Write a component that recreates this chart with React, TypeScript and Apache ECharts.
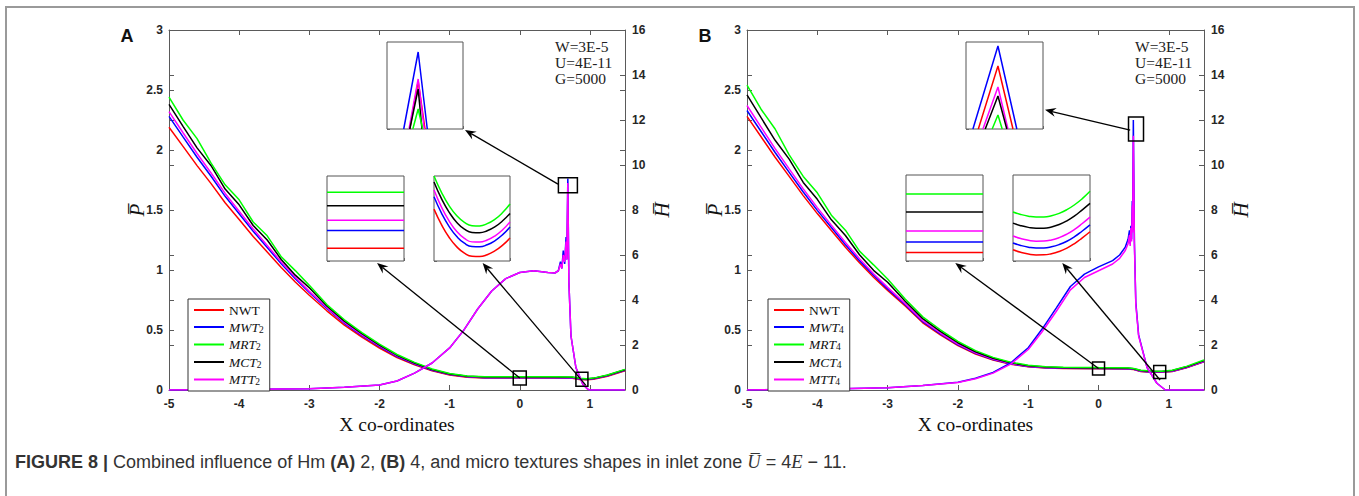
import React, { useEffect, useRef } from "react";
import * as echarts from "echarts";

// ---------- colours / names ----------
const COLORS: Record<string, string> = {
  NWT: "#ff0000",
  MWT: "#0000ff",
  MRT: "#00ff00",
  MCT: "#000000",
  MTT: "#ff00ff",
};
const CASES = ["NWT", "MWT", "MTT", "MCT", "MRT"]; // drawing order

// ---------- axes ----------
const X_MIN = -5;
const X_MAX = 1.5;
const X_INTERVAL = 1;
const P_MIN = 0;
const P_MAX = 3;
const P_INTERVAL = 0.5;
const H_MIN = 0;
const H_MAX = 16;
const H_INTERVAL = 2;
const X_NAME = "X co-ordinates";
const P_NAME = "P\u0305";
const H_NAME = "H\u0305";

// ---------- panel A (Hm = 2): pressure P ----------
const P_X_A = [-5, -4.8, -4.6, -4.4, -4.2, -4, -3.8, -3.6, -3.4, -3.2, -3, -2.75, -2.5, -2.25, -2, -1.75, -1.5, -1.25, -1, -0.75, -0.5, 0, 0.5, 0.75, 0.85, 0.95, 1.05, 1.25, 1.5];
const P_A_NWT = [2.19, 2.03, 1.87, 1.72, 1.56, 1.42, 1.28, 1.15, 1.02, 0.9, 0.79, 0.66, 0.54, 0.44, 0.35, 0.27, 0.21, 0.16, 0.125, 0.107, 0.1, 0.1, 0.1, 0.098, 0.088, 0.085, 0.09, 0.115, 0.16];
const P_A_MWT = [2.28, 2.109, 1.94, 1.781, 1.614, 1.469, 1.323, 1.188, 1.052, 0.927, 0.812, 0.679, 0.556, 0.454, 0.362, 0.279, 0.217, 0.165, 0.129, 0.111, 0.103, 0.103, 0.103, 0.101, 0.091, 0.088, 0.093, 0.119, 0.164];
const P_A_MRT = [2.44, 2.25, 2.095, 1.89, 1.71, 1.585, 1.4, 1.285, 1.11, 0.995, 0.872, 0.712, 0.585, 0.478, 0.382, 0.296, 0.23, 0.175, 0.137, 0.117, 0.11, 0.11, 0.11, 0.108, 0.097, 0.094, 0.099, 0.125, 0.172];
const P_A_MCT = [2.38, 2.197, 2.018, 1.869, 1.674, 1.543, 1.371, 1.25, 1.088, 0.957, 0.852, 0.7, 0.574, 0.469, 0.374, 0.29, 0.225, 0.171, 0.134, 0.115, 0.108, 0.108, 0.108, 0.106, 0.095, 0.092, 0.097, 0.123, 0.169];
const P_A_MTT = [2.32, 2.144, 1.971, 1.808, 1.638, 1.49, 1.342, 1.205, 1.067, 0.939, 0.822, 0.687, 0.563, 0.46, 0.367, 0.284, 0.22, 0.168, 0.131, 0.112, 0.105, 0.105, 0.105, 0.103, 0.093, 0.09, 0.095, 0.12, 0.166];

// ---------- panel A: film thickness H ----------
const H_X_A = [-5, -4, -3, -2.5, -2, -1.75, -1.5, -1.25, -1, -0.8, -0.6, -0.4, -0.2, 0, 0.2, 0.4, 0.5, 0.55, 0.58, 0.6, 0.62, 0.64, 0.66, 0.67, 0.685, 0.7, 0.73, 0.8, 0.9, 0.97, 1.0, 1.5];
const H_A_MWT = [0, 0.02, 0.06, 0.12, 0.22, 0.4, 0.75, 1.2, 1.87, 2.65, 3.6, 4.4, 4.95, 5.22, 5.3, 5.22, 5.2, 5.3, 5.7, 5.4, 6.2, 5.6, 6.8, 5.8, 9.4, 4.8, 2.4, 1.0, 0.25, 0.03, 0, 0];
const H_A_MTT = [0, 0.02, 0.06, 0.12, 0.22, 0.4, 0.75, 1.2, 1.87, 2.65, 3.6, 4.4, 4.95, 5.22, 5.3, 5.22, 5.2, 5.3, 5.6, 5.4, 6.0, 5.7, 6.6, 5.8, 9.2, 4.8, 2.4, 1.0, 0.25, 0.03, 0, 0];

// ---------- panel B (Hm = 4): pressure P ----------
const P_X_B = [-5, -4.8, -4.6, -4.4, -4.2, -4, -3.8, -3.6, -3.4, -3.2, -3, -2.75, -2.5, -2.25, -2, -1.75, -1.5, -1.25, -1, -0.75, -0.5, 0, 0.4, 0.5, 0.6, 0.75, 0.9, 1.05, 1.25, 1.5];
const P_B_NWT = [2.28, 2.11, 1.94, 1.78, 1.62, 1.47, 1.33, 1.19, 1.06, 0.94, 0.83, 0.7, 0.56, 0.46, 0.37, 0.3, 0.25, 0.215, 0.193, 0.183, 0.179, 0.177, 0.176, 0.17, 0.155, 0.148, 0.147, 0.155, 0.185, 0.235];
const P_B_MWT = [2.329, 2.154, 1.979, 1.814, 1.65, 1.497, 1.354, 1.211, 1.078, 0.956, 0.843, 0.711, 0.57, 0.468, 0.377, 0.305, 0.254, 0.218, 0.195, 0.185, 0.181, 0.179, 0.178, 0.172, 0.157, 0.15, 0.149, 0.157, 0.187, 0.237];
const P_B_MRT = [2.54, 2.34, 2.175, 1.96, 1.78, 1.643, 1.457, 1.332, 1.157, 1.043, 0.925, 0.758, 0.61, 0.502, 0.405, 0.328, 0.272, 0.232, 0.206, 0.194, 0.189, 0.187, 0.186, 0.18, 0.165, 0.158, 0.157, 0.165, 0.197, 0.25];
const P_B_MCT = [2.459, 2.269, 2.081, 1.924, 1.73, 1.589, 1.418, 1.287, 1.127, 0.997, 0.898, 0.74, 0.595, 0.489, 0.394, 0.319, 0.265, 0.227, 0.202, 0.191, 0.186, 0.184, 0.183, 0.177, 0.162, 0.155, 0.154, 0.162, 0.193, 0.245];
const P_B_MTT = [2.371, 2.191, 2.012, 1.843, 1.676, 1.52, 1.374, 1.229, 1.094, 0.969, 0.855, 0.72, 0.578, 0.475, 0.382, 0.31, 0.258, 0.221, 0.198, 0.187, 0.183, 0.181, 0.18, 0.174, 0.159, 0.152, 0.151, 0.159, 0.189, 0.24];

// ---------- panel B: film thickness H ----------
const H_X_B = [-5, -4, -3, -2.5, -2, -1.75, -1.5, -1.25, -1, -0.8, -0.6, -0.4, -0.2, 0, 0.2, 0.3, 0.38, 0.42, 0.44, 0.45, 0.46, 0.47, 0.48, 0.485, 0.495, 0.51, 0.53, 0.57, 0.69, 0.83, 0.95, 1.5];
const H_B_MWT = [0, 0.03, 0.1, 0.2, 0.34, 0.52, 0.78, 1.2, 1.88, 2.72, 3.65, 4.6, 5.15, 5.47, 5.75, 6.0, 6.35, 6.7, 7.1, 6.5, 7.3, 6.7, 8.4, 7.1, 12.0, 6.6, 3.9, 2.45, 1.0, 0.3, 0, 0];
const H_B_MTT = [0, 0.03, 0.1, 0.2, 0.33, 0.5, 0.75, 1.15, 1.8, 2.6, 3.5, 4.45, 5.0, 5.3, 5.6, 5.85, 6.2, 6.5, 6.9, 6.4, 7.2, 6.6, 8.2, 7.0, 11.3, 6.5, 3.8, 2.4, 1.0, 0.3, 0, 0];

// ---------- insets (zoomed views, normalised units) ----------
const INSET_X = [0, 0.1, 0.2, 0.3, 0.4, 0.5, 0.6, 0.7, 0.8, 0.9, 1];
// inset 1: flat levels near X = 0
const IN1_A: Record<string, number> = { NWT: 0.15, MWT: 0.36, MRT: 0.81, MCT: 0.65, MTT: 0.48 };
const IN1_B: Record<string, number> = { NWT: 0.1, MWT: 0.22, MRT: 0.78, MCT: 0.57, MTT: 0.35 };
// inset 2: pressure dip near X = 0.9
const IN2_A: Record<string, number[]> = {
  NWT: [0.61, 0.425, 0.277, 0.166, 0.092, 0.055, 0.053, 0.074, 0.118, 0.183, 0.27],
  MWT: [0.755, 0.56, 0.404, 0.287, 0.209, 0.17, 0.168, 0.191, 0.238, 0.307, 0.4],
  MRT: [1.0, 0.805, 0.649, 0.532, 0.454, 0.415, 0.413, 0.439, 0.49, 0.567, 0.67],
  MCT: [0.93, 0.731, 0.573, 0.454, 0.375, 0.335, 0.333, 0.356, 0.401, 0.47, 0.56],
  MTT: [0.835, 0.631, 0.469, 0.347, 0.266, 0.225, 0.223, 0.247, 0.294, 0.365, 0.46],
};
const IN2_B: Record<string, number[]> = {
  NWT: [0.13, 0.101, 0.081, 0.071, 0.072, 0.085, 0.111, 0.15, 0.203, 0.269, 0.34],
  MWT: [0.21, 0.181, 0.161, 0.151, 0.152, 0.165, 0.191, 0.23, 0.283, 0.349, 0.42],
  MRT: [0.57, 0.541, 0.521, 0.511, 0.512, 0.526, 0.554, 0.597, 0.654, 0.725, 0.81],
  MCT: [0.44, 0.411, 0.391, 0.381, 0.382, 0.396, 0.424, 0.467, 0.524, 0.595, 0.67],
  MTT: [0.29, 0.261, 0.241, 0.231, 0.232, 0.245, 0.272, 0.313, 0.368, 0.436, 0.51],
};
// inset 3: thickness spike  [left foot, apex x, right foot, apex height]
const IN3_A: Record<string, number[]> = {
  NWT: [0.3, 0.41, 0.5, 0.55],
  MWT: [0.22, 0.41, 0.53, 0.885],
  MRT: [0.34, 0.41, 0.47, 0.23],
  MCT: [0.3, 0.41, 0.46, 0.46],
  MTT: [0.29, 0.41, 0.49, 0.575],
};
const IN3_B: Record<string, number[]> = {
  NWT: [0.16, 0.415, 0.61, 0.724],
  MWT: [0.09, 0.415, 0.66, 0.954],
  MRT: [0.34, 0.415, 0.47, 0.16],
  MCT: [0.25, 0.415, 0.53, 0.38],
  MTT: [0.22, 0.415, 0.545, 0.483],
};

// ---------- zoom annotations (data coordinates) ----------
const ZOOM_A = [
  { sq: [0, 0.1], axis: "P", size: [13, 14], from: [0, 0.1], inset: 0, tip: [0.65, 1, 0, 2] },
  { sq: [0.886, 0.09], axis: "P", size: [12, 14], from: [0.94, 0.04], inset: 1, tip: [0.64, 1, 0, 2] },
  { sq: [0.686, 9.1], axis: "H", size: [19, 15], from: [0.545, 9.15], inset: 2, tip: [1, 1, 2, 1] },
];
const ZOOM_B = [
  { sq: [0, 0.18], axis: "P", size: [12, 13], from: [0, 0.18], inset: 0, tip: [0.64, 1, 0, 2] },
  { sq: [0.87, 0.15], axis: "P", size: [12, 13], from: [0.875, 0.083], inset: 1, tip: [0.64, 1, 0, 2] },
  { sq: [0.533, 11.6], axis: "H", size: [15, 24], from: [0.45, 11.55], inset: 2, tip: [1, 0.78, 2, 0] },
];

// ---------- layout ----------
const MAIN_GRIDS = [
  { left: 169, top: 30, width: 456, height: 360 },
  { left: 747, top: 30, width: 457, height: 360 },
];
const INSET_GRIDS = [
  { left: 327, top: 176, width: 77, height: 85 },
  { left: 434, top: 176, width: 76, height: 85 },
  { left: 387, top: 42, width: 76, height: 87 },
  { left: 906, top: 175, width: 77, height: 86 },
  { left: 1013, top: 175, width: 77, height: 86 },
  { left: 966, top: 42, width: 77, height: 87 },
];

const AXIS_COLOR = "#5a5a5a";
const LABEL_STYLE = { fontFamily: "Liberation Sans", fontWeight: "bold", fontSize: 12, color: "#262626" };

function lineSeries(name: string, color: string, xs: number[], ys: number[], xi: number, yi: number, z = 2, width = 1.5) {
  return {
    type: "line",
    name,
    xAxisIndex: xi,
    yAxisIndex: yi,
    data: xs.map((x, i) => [x, ys[i]]),
    symbol: "none",
    showSymbol: false,
    smooth: false,
    lineStyle: { color, width },
    itemStyle: { color },
    z,
    silent: true,
    clip: true,
  };
}

function buildOption() {
  const grids: any[] = [];
  const xAxes: any[] = [];
  const yAxes: any[] = [];
  const series: any[] = [];

  MAIN_GRIDS.forEach((g) => grids.push({ ...g, show: false }));
  INSET_GRIDS.forEach((g) =>
    grids.push({ ...g, show: true, backgroundColor: "#fff", borderColor: "#555", borderWidth: 1, z: 5 })
  );

  const tick = { show: true, inside: true, length: 5, lineStyle: { color: AXIS_COLOR, width: 1 } };
  const line = { show: true, onZero: false, lineStyle: { color: AXIS_COLOR, width: 1 } };
  const noLine = { show: false, onZero: false };

  // main axes
  [0, 1].forEach((g) => {
    xAxes.push({
      type: "value", gridIndex: g, position: "bottom", min: X_MIN, max: X_MAX, interval: X_INTERVAL,
      axisLine: line, axisTick: tick, splitLine: { show: false },
      axisLabel: { ...LABEL_STYLE, margin: 8, showMaxLabel: false },
      name: X_NAME, nameLocation: "middle", nameGap: 24,
      nameTextStyle: { fontFamily: "Liberation Serif", fontSize: 19.5, color: "#111" },
    });
    xAxes.push({
      type: "value", gridIndex: g, position: "top", min: X_MIN, max: X_MAX, interval: X_INTERVAL,
      axisLine: line, axisTick: tick, splitLine: { show: false }, axisLabel: { show: false },
    });
    yAxes.push({
      type: "value", gridIndex: g, position: "left", min: P_MIN, max: P_MAX, interval: P_INTERVAL,
      axisLine: line, axisTick: tick, splitLine: { show: false },
      axisLabel: { ...LABEL_STYLE, margin: 6 },
    });
    yAxes.push({
      type: "value", gridIndex: g, position: "right", min: H_MIN, max: H_MAX, interval: H_INTERVAL,
      axisLine: line, axisTick: tick, splitLine: { show: false },
      axisLabel: { ...LABEL_STYLE, margin: 7 },
    });
    // mirrored tick marks
    yAxes.push({
      type: "value", gridIndex: g, position: "right", min: P_MIN, max: P_MAX, interval: P_INTERVAL,
      axisLine: noLine, axisTick: tick, splitLine: { show: false }, axisLabel: { show: false },
    });
    yAxes.push({
      type: "value", gridIndex: g, position: "left", min: H_MIN, max: H_MAX, interval: H_INTERVAL,
      axisLine: noLine, axisTick: tick, splitLine: { show: false }, axisLabel: { show: false },
    });
  });

  // inset axes
  const smallTick = { show: true, inside: true, length: 3, lineStyle: { color: "#777", width: 1 } };
  INSET_GRIDS.forEach((_, k) => {
    xAxes.push({
      type: "value", gridIndex: 2 + k, min: 0, max: 1, interval: 0.5,
      axisLine: noLine, axisTick: smallTick, splitLine: { show: false }, axisLabel: { show: false },
    });
    yAxes.push({
      type: "value", gridIndex: 2 + k, min: 0, max: 1, interval: 0.25,
      axisLine: noLine, axisTick: smallTick, splitLine: { show: false }, axisLabel: { show: false },
    });
  });

  const panels = [
    {
      suffix: "2", xi: 0, yP: 0, yH: 1,
      P: { x: P_X_A, NWT: P_A_NWT, MWT: P_A_MWT, MRT: P_A_MRT, MCT: P_A_MCT, MTT: P_A_MTT } as any,
      H: { x: H_X_A, MWT: H_A_MWT, MTT: H_A_MTT } as any,
      in1: IN1_A, in2: IN2_A, in3: IN3_A, insetBase: 0,
    },
    {
      suffix: "4", xi: 2, yP: 4, yH: 5,
      P: { x: P_X_B, NWT: P_B_NWT, MWT: P_B_MWT, MRT: P_B_MRT, MCT: P_B_MCT, MTT: P_B_MTT } as any,
      H: { x: H_X_B, MWT: H_B_MWT, MTT: H_B_MTT } as any,
      in1: IN1_B, in2: IN2_B, in3: IN3_B, insetBase: 3,
    },
  ];

  panels.forEach((p) => {
    const nm = (c: string) => (c === "NWT" ? "NWT" : c + p.suffix);
    CASES.forEach((c, i) => series.push(lineSeries(nm(c), COLORS[c], p.P.x, p.P[c], p.xi, p.yP, 2 + i * 0.01)));
    ["MWT", "MTT"].forEach((c, i) => series.push(lineSeries(nm(c), COLORS[c], p.H.x, p.H[c], p.xi, p.yH, 3 + i * 0.01)));

    const xOff = 4 + p.insetBase;
    const yOff = 8 + p.insetBase;
    CASES.forEach((c) => {
      const v = p.in1[c];
      series.push(lineSeries("in1-" + c, COLORS[c], [0, 1], [v, v], xOff, yOff, 10));
      series.push({ ...lineSeries("in2-" + c, COLORS[c], INSET_X, p.in2[c], xOff + 1, yOff + 1, 10), smooth: true });
      const t = p.in3[c];
      series.push(lineSeries("in3-" + c, COLORS[c], [t[0], t[1], t[2]], [0, t[3], 0], xOff + 2, yOff + 2, 10));
    });
  });

  const legendText = {
    rich: {
      r: { fontFamily: "Liberation Serif", fontSize: 13.5, color: "#111", lineHeight: 13 },
      i: { fontFamily: "Liberation Serif", fontStyle: "italic", fontSize: 13.5, color: "#111", lineHeight: 13 },
      s: { fontFamily: "Liberation Serif", fontSize: 9.5, color: "#111", lineHeight: 13, padding: [5, 0, 0, 0] },
    },
  };
  const legendFormatter = (name: string) =>
    name === "NWT" ? "{r|NWT}" : `{i|${name.slice(0, -1)}}{s|${name.slice(-1)}}`;
  const legendBase = {
    orient: "vertical", top: 299, icon: "rect", itemWidth: 30, itemHeight: 2, itemGap: 2.5,
    padding: [4, 6, 4, 6], borderColor: "#333", borderWidth: 1, backgroundColor: "#fff",
    textStyle: legendText, formatter: legendFormatter, selectedMode: false, z: 20,
  };

  return {
    animation: false,
    backgroundColor: "#fff",
    grid: grids,
    xAxis: xAxes,
    yAxis: yAxes,
    legend: [
      { ...legendBase, left: 188, data: ["NWT", "MWT2", "MRT2", "MCT2", "MTT2"] },
      { ...legendBase, left: 768, data: ["NWT", "MWT4", "MRT4", "MCT4", "MTT4"] },
    ],
    series,
  };
}

function arrowEls(from: number[], to: number[]) {
  const dx = to[0] - from[0];
  const dy = to[1] - from[1];
  const len = Math.hypot(dx, dy) || 1;
  const ux = dx / len, uy = dy / len;
  const nx = -uy, ny = ux;
  const L = 11, W = 4.5;
  const bx = to[0] - ux * L, by = to[1] - uy * L;
  const mx = to[0] - ux * L * 0.65, my = to[1] - uy * L * 0.65;
  return [
    { type: "line", z: 100, shape: { x1: from[0], y1: from[1], x2: mx, y2: my }, style: { stroke: "#000", lineWidth: 1.3 } },
    {
      type: "polygon", z: 100,
      shape: { points: [[to[0], to[1]], [bx + nx * W, by + ny * W], [mx, my], [bx - nx * W, by - ny * W]] },
      style: { fill: "#000" },
    },
  ];
}

function buildGraphics(chart: any) {
  const els: any[] = [];
  // outer frame
  els.push({ type: "rect", z: 0, shape: { x: 6, y: 7, width: 1348, height: 520 }, style: { fill: "none", stroke: "#9a9a9a", lineWidth: 2 } });
  // panel labels
  [["A", 127], ["B", 705]].forEach(([t, x]) =>
    els.push({ type: "text", z: 50, style: { text: t, x, y: 36, align: "center", verticalAlign: "middle", font: "bold 18px 'Liberation Sans'", fill: "#111" } })
  );
  // y-axis titles (rotated)
  MAIN_GRIDS.forEach((g) => {
    const cy = g.top + g.height / 2;
    els.push({
      type: "text", z: 50, x: g.left - 32, y: cy, rotation: Math.PI / 2,
      style: { text: P_NAME, align: "center", verticalAlign: "middle", font: "italic 21px 'Liberation Serif'", fill: "#111" },
    });
    els.push({
      type: "text", z: 50, x: g.left + g.width + 37, y: cy, rotation: Math.PI / 2,
      style: { text: H_NAME, align: "center", verticalAlign: "middle", font: "italic 21px 'Liberation Serif'", fill: "#111" },
    });
  });
  // parameters
  [555, 1135].forEach((x) =>
    els.push({
      type: "text", z: 50,
      style: { text: "W=3E-5\nU=4E-11\nG=5000", x, y: 38, lineHeight: 16, verticalAlign: "top", font: "15.5px 'Liberation Serif'", fill: "#222" },
    })
  );
  // caption
  els.push({
    type: "text", z: 50,
    style: {
      x: 15, y: 462, verticalAlign: "middle",
      text: "{b|FIGURE 8 | }{n|Combined influence of Hm }{b|(A)}{n| 2, }{b|(B)}{n| 4, and micro textures shapes in inlet zone }{m|U\u0305}{n| = 4}{m|E}{n| \u2212 11.}",
      rich: {
        b: { fontFamily: "Liberation Sans", fontWeight: "bold", fontSize: 18, fill: "#333" },
        n: { fontFamily: "Liberation Sans", fontSize: 18, fill: "#333" },
        m: { fontFamily: "Liberation Serif", fontStyle: "italic", fontSize: 18.5, fill: "#333" },
      },
    },
  });

  // zoom squares + arrows
  [ZOOM_A, ZOOM_B].forEach((zs, panel) => {
    const xi = panel * 2;
    const yP = panel * 4;
    const yH = panel * 4 + 1;
    zs.forEach((z: any) => {
      const yi = z.axis === "P" ? yP : yH;
      const c = chart.convertToPixel({ xAxisIndex: xi, yAxisIndex: yi }, z.sq);
      const f = chart.convertToPixel({ xAxisIndex: xi, yAxisIndex: yi }, z.from);
      const g = INSET_GRIDS[panel * 3 + z.inset];
      const tip = [g.left + g.width * z.tip[0] + z.tip[2], g.top + g.height * z.tip[1] + z.tip[3]];
      els.push({
        type: "rect", z: 100,
        shape: { x: c[0] - z.size[0] / 2, y: c[1] - z.size[1] / 2, width: z.size[0], height: z.size[1] },
        style: { fill: "none", stroke: "#000", lineWidth: 1.5 },
      });
      arrowEls(f, tip).forEach((e) => els.push(e));
    });
  });
  return els;
}

export default function App() {
  const ref = useRef<HTMLDivElement>(null);
  useEffect(() => {
    const chart = echarts.init(ref.current as HTMLDivElement, null, { renderer: "svg" });
    chart.setOption(buildOption() as any);
    chart.setOption({ graphic: buildGraphics(chart) } as any);
    return () => chart.dispose();
  }, []);
  return (
    <div
      ref={ref}
      style={{ position: "absolute", left: 0, top: 0, width: 1359, height: 496, background: "#fff" }}
    />
  );
}
